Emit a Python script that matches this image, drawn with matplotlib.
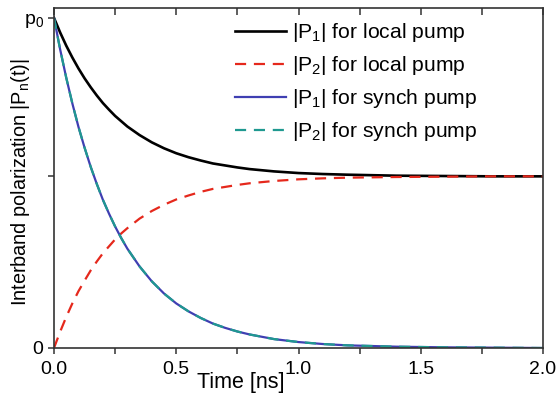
import matplotlib
matplotlib.use("Agg")
import matplotlib.pyplot as plt
from matplotlib.ticker import MultipleLocator, FormatStrFormatter

plt.rcParams["font.family"] = ["Liberation Sans", "DejaVu Sans"]
plt.rcParams["mathtext.default"] = "regular"

# time axis (ns) and curves
t = [0, 0.025, 0.05, 0.075, 0.1, 0.125, 0.15, 0.175, 0.2, 0.225, 0.25, 0.275,
     0.3, 0.35, 0.4, 0.45, 0.5, 0.55, 0.6, 0.65, 0.7, 0.75, 0.8, 0.9, 1.0,
     1.1, 1.2, 1.4, 1.6, 1.8, 2.0]
p1_local = [1.000, 0.956, 0.916, 0.880, 0.847, 0.817, 0.790, 0.765, 0.742, 0.722,
            0.703, 0.687, 0.671, 0.645, 0.623, 0.605, 0.590, 0.578, 0.568, 0.559,
            0.553, 0.547, 0.542, 0.535, 0.530, 0.527, 0.525, 0.522, 0.521, 0.520,
            0.520]
p2_local = [0.000, 0.049, 0.094, 0.135, 0.172, 0.204, 0.235, 0.262, 0.287, 0.308,
            0.329, 0.347, 0.363, 0.392, 0.415, 0.434, 0.450, 0.462, 0.473, 0.482,
            0.488, 0.494, 0.499, 0.506, 0.511, 0.514, 0.516, 0.518, 0.519, 0.520,
            0.520]
p1_synch = [1.000, 0.905, 0.819, 0.741, 0.670, 0.607, 0.549, 0.497, 0.449, 0.407,
            0.368, 0.333, 0.301, 0.247, 0.202, 0.165, 0.135, 0.111, 0.091, 0.074,
            0.061, 0.050, 0.041, 0.027, 0.018, 0.012, 0.008, 0.004, 0.002, 0.001,
            0.000]
p2_synch = [1.000, 0.905, 0.819, 0.741, 0.670, 0.607, 0.549, 0.497, 0.449, 0.407,
            0.368, 0.333, 0.301, 0.247, 0.202, 0.165, 0.135, 0.111, 0.091, 0.074,
            0.061, 0.050, 0.041, 0.027, 0.018, 0.012, 0.008, 0.004, 0.002, 0.001,
            0.000]
labels = ["|P$_1$| for local pump", "|P$_2$| for local pump",
          "|P$_1$| for synch pump", "|P$_2$| for synch pump"]
ytick_vals = [0, 0.52, 1.0]
ytick_labels = ["0", "", "p$_0$"]

fig = plt.figure(figsize=(5.58, 3.99), dpi=100)
ax = fig.add_axes([54 / 558, 1 - 348 / 399, 489 / 558, 340 / 399])

ax.plot(t, p1_local, color="black", lw=1.9, label=labels[0])
ax.plot(t, p2_local, color="#e5281c", lw=1.6, dashes=(5, 3.5), label=labels[1])
ax.plot(t, p1_synch, color="#3f3fb2", lw=1.6, label=labels[2])
ax.plot(t, p2_synch, color="#1f9990", lw=1.6, dashes=(5, 3.5), label=labels[3])

ax.set_xlim(0, 2.0)
ax.set_ylim(0, 1.03)
ax.xaxis.set_major_locator(MultipleLocator(0.5))
ax.xaxis.set_minor_locator(MultipleLocator(0.25))
ax.xaxis.set_major_formatter(FormatStrFormatter("%.1f"))
ax.set_yticks(ytick_vals)
ax.set_yticklabels(ytick_labels)
ax.tick_params(axis="both", which="both", direction="out", length=4, width=1.1,
               labelsize=14, colors="#333333", labelcolor="black")
ax.tick_params(axis="x", which="both", pad=5)

# inward ticks along the top edge
top = ax.secondary_xaxis("top")
top.xaxis.set_major_locator(MultipleLocator(0.25))
top.tick_params(direction="in", length=5, width=1.1, labeltop=False, colors="#333333")
top.spines["top"].set_visible(False)

for s in ax.spines.values():
    s.set_color("#333333")
    s.set_linewidth(1.2)

ax.set_xlabel("Time [ns]", fontsize=15.5)
ax.xaxis.set_label_coords((241 - 54) / 489, -0.07)
ax.set_ylabel("Interband polarization |P$_n$(t)|", fontsize=14.3)
ax.yaxis.set_label_coords(-0.046, 0.488)

ax.legend(loc="upper left", bbox_to_anchor=((235 - 54) / 489, 0.962), frameon=False,
          fontsize=15.2, handlelength=2.4, handletextpad=0.3, labelspacing=0.48,
          borderpad=0, borderaxespad=0)

fig.savefig("out.png", dpi=100)
